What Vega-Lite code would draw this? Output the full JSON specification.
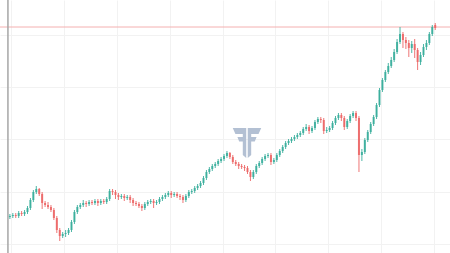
{
  "$schema": "https://vega.github.io/schema/vega-lite/v6.json",
  "width": 450,
  "height": 253,
  "autosize": {"type": "none"},
  "padding": 0,
  "background": "#ffffff",
  "config": {"view": {"stroke": null}},
  "data": {"values": [
    {"i":0,"o":36,"h":39,"l":34,"c":37},
    {"i":1,"o":37,"h":40,"l":35,"c":38},
    {"i":2,"o":38,"h":40,"l":35,"c":37},
    {"i":3,"o":37,"h":42,"l":35,"c":40},
    {"i":4,"o":40,"h":42,"l":37,"c":39},
    {"i":5,"o":39,"h":43,"l":37,"c":41},
    {"i":6,"o":41,"h":47,"l":39,"c":45},
    {"i":7,"o":45,"h":55,"l":43,"c":53},
    {"i":8,"o":53,"h":63,"l":51,"c":61},
    {"i":9,"o":61,"h":67,"l":59,"c":64},
    {"i":10,"o":64,"h":65,"l":57,"c":59},
    {"i":11,"o":59,"h":61,"l":44,"c":50},
    {"i":12,"o":50,"h":52,"l":46,"c":48},
    {"i":13,"o":48,"h":51,"l":44,"c":46},
    {"i":14,"o":46,"h":48,"l":41,"c":43},
    {"i":15,"o":43,"h":45,"l":33,"c":35},
    {"i":16,"o":35,"h":37,"l":20,"c":23},
    {"i":17,"o":23,"h":25,"l":12,"c":17},
    {"i":18,"o":17,"h":21,"l":15,"c":19},
    {"i":19,"o":19,"h":23,"l":16,"c":20},
    {"i":20,"o":20,"h":25,"l":18,"c":23},
    {"i":21,"o":23,"h":33,"l":21,"c":31},
    {"i":22,"o":31,"h":43,"l":29,"c":41},
    {"i":23,"o":41,"h":48,"l":39,"c":46},
    {"i":24,"o":46,"h":50,"l":44,"c":48},
    {"i":25,"o":48,"h":53,"l":46,"c":50},
    {"i":26,"o":50,"h":52,"l":46,"c":49},
    {"i":27,"o":49,"h":53,"l":47,"c":51},
    {"i":28,"o":51,"h":53,"l":48,"c":50},
    {"i":29,"o":50,"h":54,"l":48,"c":52},
    {"i":30,"o":52,"h":54,"l":47,"c":50},
    {"i":31,"o":50,"h":54,"l":48,"c":52},
    {"i":32,"o":52,"h":54,"l":49,"c":51},
    {"i":33,"o":51,"h":56,"l":49,"c":54},
    {"i":34,"o":54,"h":64,"l":52,"c":62},
    {"i":35,"o":62,"h":64,"l":58,"c":61},
    {"i":36,"o":61,"h":63,"l":54,"c":58},
    {"i":37,"o":58,"h":60,"l":53,"c":56},
    {"i":38,"o":56,"h":59,"l":54,"c":57},
    {"i":39,"o":57,"h":59,"l":52,"c":55},
    {"i":40,"o":55,"h":58,"l":53,"c":56},
    {"i":41,"o":56,"h":58,"l":50,"c":53},
    {"i":42,"o":53,"h":55,"l":47,"c":50},
    {"i":43,"o":50,"h":52,"l":47,"c":49},
    {"i":44,"o":49,"h":51,"l":45,"c":47},
    {"i":45,"o":47,"h":49,"l":42,"c":45},
    {"i":46,"o":45,"h":51,"l":43,"c":49},
    {"i":47,"o":49,"h":53,"l":47,"c":51},
    {"i":48,"o":51,"h":54,"l":49,"c":52},
    {"i":49,"o":52,"h":54,"l":45,"c":50},
    {"i":50,"o":50,"h":53,"l":48,"c":51},
    {"i":51,"o":51,"h":56,"l":49,"c":54},
    {"i":52,"o":54,"h":58,"l":52,"c":56},
    {"i":53,"o":56,"h":60,"l":54,"c":58},
    {"i":54,"o":58,"h":62,"l":56,"c":60},
    {"i":55,"o":60,"h":62,"l":55,"c":58},
    {"i":56,"o":58,"h":61,"l":56,"c":59},
    {"i":57,"o":59,"h":61,"l":55,"c":57},
    {"i":58,"o":57,"h":59,"l":53,"c":56},
    {"i":59,"o":56,"h":58,"l":50,"c":53},
    {"i":60,"o":53,"h":59,"l":51,"c":57},
    {"i":61,"o":57,"h":63,"l":55,"c":61},
    {"i":62,"o":61,"h":64,"l":59,"c":62},
    {"i":63,"o":62,"h":67,"l":60,"c":65},
    {"i":64,"o":65,"h":69,"l":63,"c":67},
    {"i":65,"o":67,"h":72,"l":65,"c":70},
    {"i":66,"o":70,"h":77,"l":68,"c":75},
    {"i":67,"o":75,"h":83,"l":73,"c":81},
    {"i":68,"o":81,"h":86,"l":79,"c":84},
    {"i":69,"o":84,"h":89,"l":82,"c":87},
    {"i":70,"o":87,"h":91,"l":85,"c":89},
    {"i":71,"o":89,"h":94,"l":87,"c":92},
    {"i":72,"o":92,"h":96,"l":90,"c":94},
    {"i":73,"o":94,"h":99,"l":92,"c":97},
    {"i":74,"o":97,"h":102,"l":95,"c":100},
    {"i":75,"o":100,"h":101,"l":94,"c":96},
    {"i":76,"o":96,"h":98,"l":89,"c":91},
    {"i":77,"o":91,"h":93,"l":87,"c":89},
    {"i":78,"o":89,"h":91,"l":84,"c":87},
    {"i":79,"o":87,"h":89,"l":84,"c":86},
    {"i":80,"o":86,"h":88,"l":82,"c":85},
    {"i":81,"o":85,"h":87,"l":79,"c":81},
    {"i":82,"o":81,"h":83,"l":72,"c":76},
    {"i":83,"o":76,"h":83,"l":74,"c":81},
    {"i":84,"o":81,"h":89,"l":79,"c":87},
    {"i":85,"o":87,"h":92,"l":85,"c":90},
    {"i":86,"o":90,"h":96,"l":88,"c":94},
    {"i":87,"o":94,"h":99,"l":92,"c":97},
    {"i":88,"o":97,"h":100,"l":95,"c":98},
    {"i":89,"o":98,"h":100,"l":88,"c":91},
    {"i":90,"o":91,"h":95,"l":89,"c":93},
    {"i":91,"o":93,"h":100,"l":91,"c":98},
    {"i":92,"o":98,"h":104,"l":96,"c":102},
    {"i":93,"o":102,"h":108,"l":100,"c":106},
    {"i":94,"o":106,"h":112,"l":104,"c":110},
    {"i":95,"o":110,"h":114,"l":108,"c":112},
    {"i":96,"o":112,"h":116,"l":110,"c":114},
    {"i":97,"o":114,"h":118,"l":112,"c":116},
    {"i":98,"o":116,"h":120,"l":114,"c":118},
    {"i":99,"o":118,"h":122,"l":116,"c":120},
    {"i":100,"o":120,"h":126,"l":118,"c":124},
    {"i":101,"o":124,"h":129,"l":122,"c":126},
    {"i":102,"o":126,"h":128,"l":119,"c":122},
    {"i":103,"o":122,"h":127,"l":120,"c":125},
    {"i":104,"o":125,"h":133,"l":123,"c":131},
    {"i":105,"o":131,"h":136,"l":129,"c":134},
    {"i":106,"o":134,"h":136,"l":130,"c":133},
    {"i":107,"o":133,"h":135,"l":119,"c":122},
    {"i":108,"o":122,"h":126,"l":120,"c":123},
    {"i":109,"o":123,"h":127,"l":121,"c":125},
    {"i":110,"o":125,"h":132,"l":123,"c":130},
    {"i":111,"o":130,"h":137,"l":128,"c":135},
    {"i":112,"o":135,"h":140,"l":133,"c":138},
    {"i":113,"o":138,"h":140,"l":132,"c":135},
    {"i":114,"o":135,"h":137,"l":123,"c":126},
    {"i":115,"o":126,"h":134,"l":124,"c":132},
    {"i":116,"o":132,"h":139,"l":130,"c":137},
    {"i":117,"o":137,"h":142,"l":135,"c":140},
    {"i":118,"o":140,"h":142,"l":132,"c":135},
    {"i":119,"o":135,"h":137,"l":81,"c":98},
    {"i":120,"o":98,"h":104,"l":92,"c":101},
    {"i":121,"o":101,"h":115,"l":99,"c":113},
    {"i":122,"o":113,"h":123,"l":111,"c":121},
    {"i":123,"o":121,"h":131,"l":119,"c":129},
    {"i":124,"o":129,"h":138,"l":127,"c":136},
    {"i":125,"o":136,"h":150,"l":134,"c":148},
    {"i":126,"o":148,"h":165,"l":146,"c":163},
    {"i":127,"o":163,"h":175,"l":161,"c":173},
    {"i":128,"o":173,"h":183,"l":171,"c":181},
    {"i":129,"o":181,"h":190,"l":179,"c":187},
    {"i":130,"o":187,"h":196,"l":185,"c":193},
    {"i":131,"o":193,"h":204,"l":191,"c":201},
    {"i":132,"o":201,"h":214,"l":199,"c":211},
    {"i":133,"o":211,"h":226,"l":209,"c":219},
    {"i":134,"o":219,"h":221,"l":205,"c":213},
    {"i":135,"o":213,"h":216,"l":204,"c":210},
    {"i":136,"o":210,"h":213,"l":196,"c":205},
    {"i":137,"o":205,"h":212,"l":200,"c":209},
    {"i":138,"o":209,"h":214,"l":195,"c":203},
    {"i":139,"o":203,"h":205,"l":183,"c":191},
    {"i":140,"o":191,"h":201,"l":188,"c":198},
    {"i":141,"o":198,"h":209,"l":196,"c":206},
    {"i":142,"o":206,"h":213,"l":203,"c":210},
    {"i":143,"o":210,"h":221,"l":208,"c":219},
    {"i":144,"o":219,"h":228,"l":217,"c":226},
    {"i":145,"o":228,"h":230,"l":223,"c":225}
  ]},
  "layer": [
    {
      "data": {"values": [{}]},
      "mark": {"type": "point", "shape": "M -0.95 -1 L -0.05 -1 L -0.05 1 L -0.28 0.8 L -0.28 -0.1 L -0.52 -0.1 L -0.64 -0.4 L -0.28 -0.4 L -0.28 -0.6 L -0.77 -0.6 Z M 0.95 -1 L 0.05 -1 L 0.05 1 L 0.28 0.8 L 0.28 -0.1 L 0.52 -0.1 L 0.64 -0.4 L 0.28 -0.4 L 0.28 -0.6 L 0.77 -0.6 Z", "filled": true, "fill": "#b3c0d3", "strokeWidth": 0, "opacity": 1, "size": 900},
      "encoding": {
        "x": {"datum": 80.83, "type": "quantitative", "scale": {"domain": [-1.6667, 148.3333], "nice": false, "zero": false}, "axis": {"values": [0.333, 18.375, 36.417, 54.458, 72.5, 90.54, 108.58, 126.63, 144.67], "grid": true, "gridColor": "#f2f2f2", "gridWidth": 1, "labels": false, "ticks": false, "domain": false, "title": null}},
        "y": {"datum": 110, "type": "quantitative", "scale": {"domain": [0, 253], "nice": false, "zero": false}, "axis": {"values": [244, 218, 192, 166, 140, 114, 87, 61, 35, 9], "grid": true, "gridColor": "#f2f2f2", "gridWidth": 1, "labels": false, "ticks": false, "domain": false, "title": null}}
      }
    },
    {
      "data": {"values": [{}]},
      "mark": {"type": "rule", "color": "#f4b0b0", "strokeWidth": 1},
      "encoding": {"y": {"datum": 226, "type": "quantitative"}}
    },
    {
      "mark": {"type": "rule", "strokeWidth": 1, "opacity": 0.9},
      "encoding": {
        "x": {"field": "i", "type": "quantitative"},
        "y": {"field": "l", "type": "quantitative"},
        "y2": {"field": "h"},
        "color": {"condition": {"test": "datum.c >= datum.o", "value": "#3aae9c"}, "value": "#ec6666"}
      }
    },
    {
      "mark": {"type": "bar", "width": 2, "opacity": 0.9},
      "encoding": {
        "x": {"field": "i", "type": "quantitative"},
        "y": {"field": "o", "type": "quantitative"},
        "y2": {"field": "c"},
        "color": {"condition": {"test": "datum.c >= datum.o", "value": "#3aae9c"}, "value": "#ec6666"}
      }
    },
    {
      "data": {"values": [{}]},
      "mark": {"type": "rule", "color": "#a6a6a6", "strokeWidth": 1.5},
      "encoding": {"x": {"datum": -0.6667, "type": "quantitative"}}
    }
  ]
}
